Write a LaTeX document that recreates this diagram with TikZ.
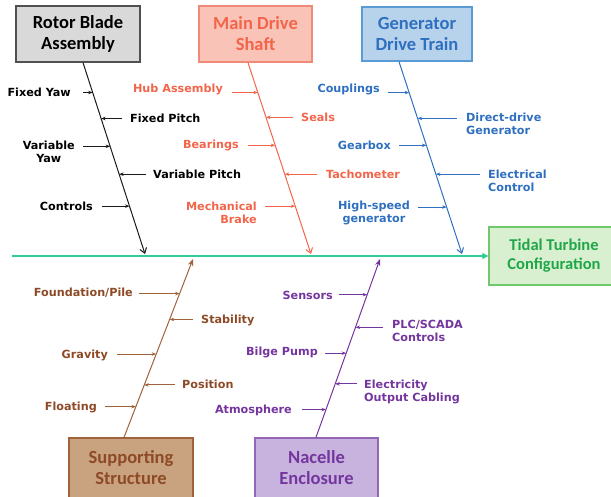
\documentclass[tikz,border=0pt]{standalone}
\usepackage{fontspec}
\setmainfont{DejaVu Sans}
\newfontfamily\boxfont{Carlito}
\usetikzlibrary{arrows.meta,calc}
\definecolor{cBlack}{HTML}{1A1A1A}
\definecolor{rotFill}{HTML}{D9D9D9}
\definecolor{rotLine}{HTML}{505050}
\definecolor{cRed}{HTML}{F2654A}
\definecolor{redFill}{HTML}{F9C3B8}
\definecolor{redLine}{HTML}{F08A78}
\definecolor{cBlue}{HTML}{2F6FC0}
\definecolor{blueFill}{HTML}{B7D3EC}
\definecolor{blueLine}{HTML}{5B9BD5}
\definecolor{cGreen}{HTML}{1FA648}
\definecolor{greenFill}{HTML}{D9F0D0}
\definecolor{greenLine}{HTML}{70C86A}
\definecolor{mainLine}{HTML}{33CC99}
\definecolor{cBrown}{HTML}{8E4A26}
\definecolor{brownFill}{HTML}{C9A27F}
\definecolor{brownLine}{HTML}{A0623A}
\definecolor{cPurple}{HTML}{74369E}
\definecolor{purpFill}{HTML}{C8B3DE}
\definecolor{purpLine}{HTML}{9466B8}
\tikzset{
  catbox/.style={draw, line width=1.3pt, minimum width=#1, align=center,
     font=\boxfont\fontsize{18.5}{21}\selectfont\bfseries, inner sep=2pt},
  lbl/.style={inner sep=0pt, font=\fontsize{11.2}{13}\selectfont\bfseries},
  rib/.style={line width=0.9pt, -{Stealth[length=4.5pt,width=3.5pt]}},
  spinetop/.style={line width=1pt, -{Straight Barb[length=5pt,width=7pt]}},
  spinebot/.style={line width=1pt, -{Stealth[length=7pt,width=5.5pt]}},
}
\begin{document}
\begin{tikzpicture}[x=1pt,y=-1pt]
\useasboundingbox (0,0) rectangle (611,497);
\clip (0,0) rectangle (611,497);
% category boxes
\node[catbox=124pt, minimum height=56pt, fill=rotFill, draw=rotLine, text=black] (rotor) at (78,34) {Rotor Blade\\Assembly};
\node[catbox=113pt, minimum height=56pt, fill=redFill, draw=redLine, text=cRed] (main) at (255.5,34) {Main Drive\\Shaft};
\node[catbox=110pt, minimum height=54pt, fill=blueFill, draw=blueLine, text=cBlue] (gen) at (417,34) {Generator\\Drive Train};
\node[catbox=130pt, minimum height=58pt, fill=greenFill, draw=greenLine, text=cGreen, font=\boxfont\fontsize{16.5}{19}\selectfont\bfseries] (tidal) at (554,256) {Tidal Turbine\\Configuration};
\node[catbox=124pt, minimum height=60pt, fill=brownFill, draw=brownLine, text=cBrown] (sup) at (131,468) {Supporting\\Structure};
\node[catbox=123pt, minimum height=60pt, fill=purpFill, draw=purpLine, text=cPurple] (nac) at (316.5,468) {Nacelle\\Enclosure};
% main line
\coordinate (ML) at (12,256);
\draw[mainLine, line width=1.1pt, -{Triangle[length=6pt,width=6pt]}] (ML) -- (tidal.west);
% spines
\coordinate (Rt) at ($(rotor.south)+(5,0)$);
\coordinate (Rb) at (145,254);
\coordinate (Mt) at ($(main.south)+(-7.5,0)$);
\coordinate (Mb) at (311,254);
\coordinate (Gt) at ($(gen.south)+(-18,0)$);
\coordinate (Gb) at (462,254);
\coordinate (Sb) at ($(sup.north)+(-7,0)$);
\coordinate (St) at (193,259);
\coordinate (Nb) at ($(nac.north)+(-0.5,0)$);
\coordinate (Nt) at (380,259);
\draw[spinetop, cBlack] (Rt) -- (Rb);
\draw[spinetop, cRed] (Mt) -- (Mb);
\draw[spinetop, cBlue] (Gt) -- (Gb);
\draw[spinebot, brownLine] (Sb) -- (St);
\draw[spinebot, cPurple] (Nb) -- (Nt);
% spine points
\coordinate (r1) at ($(Rt)!.156!(Rb)$);
\coordinate (r2) at ($(Rt)!.292!(Rb)$);
\coordinate (r3) at ($(Rt)!.4375!(Rb)$);
\coordinate (r4) at ($(Rt)!.583!(Rb)$);
\coordinate (r5) at ($(Rt)!.75!(Rb)$);
\coordinate (m1) at ($(Mt)!.156!(Mb)$);
\coordinate (m2) at ($(Mt)!.286!(Mb)$);
\coordinate (m3) at ($(Mt)!.432!(Mb)$);
\coordinate (m4) at ($(Mt)!.583!(Mb)$);
\coordinate (m5) at ($(Mt)!.75!(Mb)$);
\coordinate (g1) at ($(Gt)!.161!(Gb)$);
\coordinate (g2) at ($(Gt)!.295!(Gb)$);
\coordinate (g3) at ($(Gt)!.435!(Gb)$);
\coordinate (g4) at ($(Gt)!.585!(Gb)$);
\coordinate (g5) at ($(Gt)!.756!(Gb)$);
\coordinate (s1) at ($(Sb)!.806!(St)$);
\coordinate (s2) at ($(Sb)!.661!(St)$);
\coordinate (s3) at ($(Sb)!.467!(St)$);
\coordinate (s4) at ($(Sb)!.294!(St)$);
\coordinate (s5) at ($(Sb)!.172!(St)$);
\coordinate (n1) at ($(Nb)!.8!(Nt)$);
\coordinate (n2) at ($(Nb)!.617!(Nt)$);
\coordinate (n3) at ($(Nb)!.472!(Nt)$);
\coordinate (n4) at ($(Nb)!.3!(Nt)$);
\coordinate (n5) at ($(Nb)!.156!(Nt)$);
% rotor labels
\begin{scope}[every node/.style={lbl, text=black}]
\node[anchor=east] (fy) at (71,92) {Fixed Yaw};
\node[anchor=west] (fp) at (130,118) {Fixed Pitch};
\node[anchor=east, align=center] (vy) at (75,152) {Variable\\Yaw};
\node[anchor=west] (vp) at (153,174) {Variable Pitch};
\node[anchor=east] (co) at (93,206) {Controls};
\end{scope}
\draw[rib, cBlack] ($(fy.east |- r1)+(12,0)$) -- (r1);
\draw[rib, cBlack] ($(fp.west |- r2)+(-8,0)$) -- (r2);
\draw[rib, cBlack] ($(vy.east |- r3)+(8,0)$) -- (r3);
\draw[rib, cBlack] ($(vp.west |- r4)+(-7,0)$) -- (r4);
\draw[rib, cBlack] ($(co.east |- r5)+(9,0)$) -- (r5);
% main drive labels
\begin{scope}[every node/.style={lbl, text=cRed}]
\node[anchor=east] (ha) at (223,89) {Hub Assembly};
\node[anchor=west] (se) at (301,117) {Seals};
\node[anchor=east] (be) at (239,145) {Bearings};
\node[anchor=west] (ta) at (326,174) {Tachometer};
\node[anchor=east, align=right] (mb) at (257,213) {Mechanical\\Brake};
\end{scope}
\draw[rib, cRed] ($(ha.east |- m1)+(9,0)$) -- (m1);
\draw[rib, cRed] ($(se.west |- m2)+(-8,0)$) -- (m2);
\draw[rib, cRed] ($(be.east |- m3)+(9,0)$) -- (m3);
\draw[rib, cRed] ($(ta.west |- m4)+(-9,0)$) -- (m4);
\draw[rib, cRed] ($(mb.east |- m5)+(8,0)$) -- (m5);
% generator labels
\begin{scope}[every node/.style={lbl, text=cBlue}]
\node[anchor=east] (cp) at (380,89) {Couplings};
\node[anchor=west, align=left] (dd) at (466,124) {Direct-drive\\Generator};
\node[anchor=east] (gb) at (391,145) {Gearbox};
\node[anchor=west, align=left] (ec) at (488,181) {Electrical\\Control};
\node[anchor=east, align=center] (hs) at (410,213) {High-speed\\generator};
\end{scope}
\draw[rib, cBlue] ($(cp.east |- g1)+(8,0)$) -- (g1);
\draw[rib, cBlue] ($(dd.west |- g2)+(-9,0)$) -- (g2);
\draw[rib, cBlue] ($(gb.east |- g3)+(8,0)$) -- (g3);
\draw[rib, cBlue] ($(ec.west |- g4)+(-8,0)$) -- (g4);
\draw[rib, cBlue] ($(hs.east |- g5)+(8,0)$) -- (g5);
% supporting labels
\begin{scope}[every node/.style={lbl, text=cBrown}]
\node[anchor=east] (fo) at (133,293) {Foundation/Pile};
\node[anchor=west] (st) at (201,320) {Stability};
\node[anchor=east] (gr) at (108,355) {Gravity};
\node[anchor=west] (po) at (182,384) {Position};
\node[anchor=east] (fl) at (97,407) {Floating};
\end{scope}
\draw[rib, brownLine] ($(fo.east |- s1)+(6,0)$) -- (s1);
\draw[rib, brownLine] ($(st.west |- s2)+(-8,0)$) -- (s2);
\draw[rib, brownLine] ($(gr.east |- s3)+(9,0)$) -- (s3);
\draw[rib, brownLine] ($(po.west |- s4)+(-7,0)$) -- (s4);
\draw[rib, brownLine] ($(fl.east |- s5)+(8,0)$) -- (s5);
% nacelle labels
\begin{scope}[every node/.style={lbl, text=cPurple}]
\node[anchor=east] (sn) at (333,295) {Sensors};
\node[anchor=west, align=left] (pl) at (392,331) {PLC/SCADA\\Controls};
\node[anchor=east] (bp) at (318,352) {Bilge Pump};
\node[anchor=west, align=left] (el) at (364,392) {Electricity\\Output Cabling};
\node[anchor=east] (at) at (292,410) {Atmosphere};
\end{scope}
\draw[rib, cPurple] ($(sn.east |- n1)+(6,0)$) -- (n1);
\draw[rib, cPurple] ($(pl.west |- n2)+(-9,0)$) -- (n2);
\draw[rib, cPurple] ($(bp.east |- n3)+(7,0)$) -- (n3);
\draw[rib, cPurple] ($(el.west |- n4)+(-7,0)$) -- (n4);
\draw[rib, cPurple] ($(at.east |- n5)+(10,0)$) -- (n5);
\end{tikzpicture}
\end{document}
